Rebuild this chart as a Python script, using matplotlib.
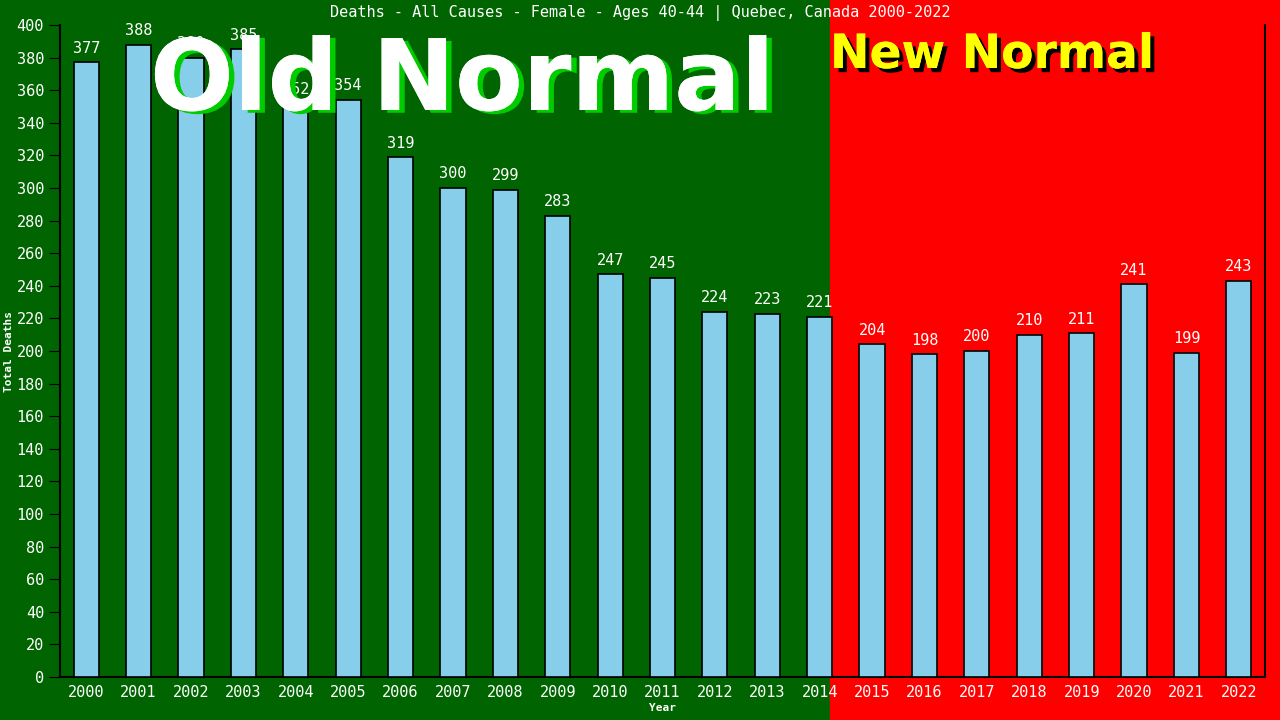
import matplotlib
matplotlib.use("Agg")
import matplotlib.pyplot as plt
import matplotlib.patheffects as pe
from matplotlib.patches import Rectangle

years = [str(y) for y in range(2000, 2023)]
deaths = [377, 388, 380, 385, 352, 354, 319, 300, 299, 283, 247, 245,
          224, 223, 221, 204, 198, 200, 210, 211, 241, 199, 243]

title = "Deaths - All Causes - Female - Ages 40-44 | Quebec, Canada 2000-2022"
mono = "DejaVu Sans Mono"

fig = plt.figure(figsize=(12.8, 7.2), dpi=100)
split = 830 / 1280
fig.patches.append(Rectangle((0, 0), split, 1, transform=fig.transFigure,
                             color="#006400", zorder=-10))
fig.patches.append(Rectangle((split, 0), 1 - split, 1, transform=fig.transFigure,
                             color="#ff0000", zorder=-10))

ax = fig.add_axes([60 / 1280, 43 / 720, 1205 / 1280, 652 / 720])
ax.patch.set_alpha(0)

x = range(len(years))
bars = ax.bar(x, deaths, width=0.48, color="#87ceeb", edgecolor="black",
              linewidth=1.2, zorder=3)
for bar in bars:
    yval = bar.get_height()
    ax.text(bar.get_x() + bar.get_width() / 2, yval + 4, f"{int(yval)}",
            ha="center", va="bottom", color="white", fontsize=11,
            family=mono, zorder=4)

ax.set_xlim(-0.5, len(years) - 0.5)
ax.set_ylim(0, 400)
ax.set_yticks(range(0, 401, 20))
ax.set_xticks(list(x))
ax.set_xticklabels(years)
ax.tick_params(colors="black", labelcolor="white", labelsize=11, length=8)
for lbl in ax.get_xticklabels() + ax.get_yticklabels():
    lbl.set_family(mono)
ax.tick_params(axis="x", length=0, pad=6)
ax.spines["top"].set_visible(False)
for side in ["left", "bottom", "right"]:
    ax.spines[side].set_color("black")
    ax.spines[side].set_linewidth(1.5)

ax.set_xlabel("Year", color="white", fontsize=8, family=mono,
              fontweight="bold", labelpad=2)
ax.set_ylabel("Total Deaths", color="white", fontsize=8, family=mono,
              fontweight="bold", labelpad=2)

fig.text(0.5, 0.982, title, ha="center", va="center", color="white",
         fontsize=11, family=mono)

fig.text(150 / 1280, 1 - 110 / 720, "Old Normal", color="white", fontsize=71,
         fontweight="bold", family="DejaVu Sans", ha="left", va="baseline",
         path_effects=[pe.withSimplePatchShadow(offset=(4, -2), shadow_rgbFace="#00cc00",
                                                alpha=1), pe.Normal()])
fig.text(830 / 1280, 1 - 68 / 720, "New Normal", color="#ffff00", fontsize=34,
         fontweight="bold", family="DejaVu Sans", ha="left", va="baseline",
         path_effects=[pe.withSimplePatchShadow(offset=(3, -3), shadow_rgbFace="black",
                                                alpha=1), pe.Normal()])

fig.savefig("out.png", dpi=100)
